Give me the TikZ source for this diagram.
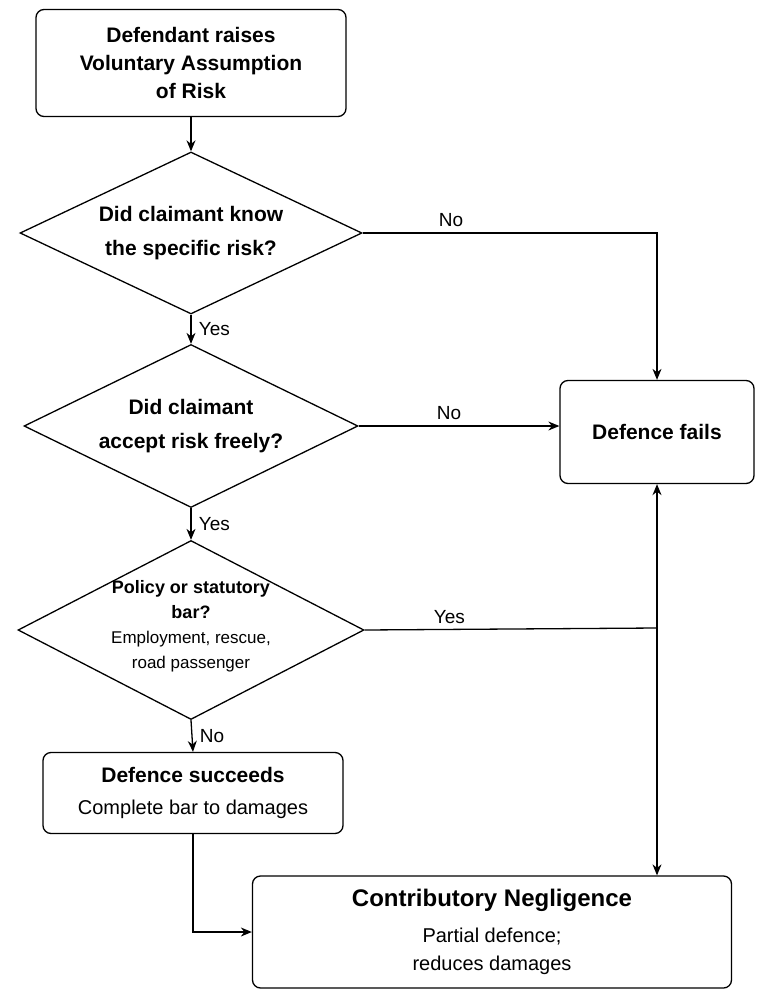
\documentclass[tikz,border=0pt]{standalone}
\usepackage{fontspec}
\setmainfont{Liberation Sans}
\usetikzlibrary{positioning,shapes.geometric,arrows.meta}

\begin{document}
\begin{tikzpicture}[x=1pt,y=-1pt,
    box/.style = {shape=rectangle, rounded corners=8pt, draw, line width=1.3pt,
                  align=center, inner sep=0pt},
    choice/.style = {shape=diamond, draw, line width=1.3pt, inner sep=0pt},
    words/.style = {align=center, inner sep=0pt},
    link/.style = {line width=1.3pt, -{Stealth[length=11pt,width=9pt]}},
    plain/.style = {line width=1.3pt},
    tag/.style = {font=\fontsize{19}{22}\selectfont}]
  \useasboundingbox (0,0) rectangle (771,1006);
  % boxes
  \node[box, minimum width=310pt, minimum height=107pt,
        font=\bfseries\fontsize{21}{28}\selectfont] (raise) at (191,63)
        {Defendant raises\\Voluntary Assumption\\of Risk};
  \node[choice, minimum width=342pt, minimum height=162pt] (know) at (191,233) {};
  \node[words, font=\bfseries\fontsize{21}{34}\selectfont] (knowtxt) at (know)
        {Did claimant know\\the specific risk?};
  \node[choice, minimum width=334pt, minimum height=163pt] (free) at (191,426) {};
  \node[words, font=\bfseries\fontsize{21}{34}\selectfont] (freetxt) at (free)
        {Did claimant\\accept risk freely?};
  \node[choice, minimum width=346pt, minimum height=179pt] (bar) at (191,630) {};
  \node[words, font=\fontsize{17}{25}\selectfont] (bartxt) at (191,626)
        {\textbf{\fontsize{18}{25}\selectfont Policy or statutory}\\
         \textbf{\fontsize{18}{25}\selectfont bar?}\\
         Employment, rescue,\\road passenger};
  \node[box, minimum width=194pt, minimum height=103pt,
        font=\bfseries\fontsize{21}{26}\selectfont] (fails) at (657,432) {Defence fails};
  \node[box, minimum width=300pt, minimum height=81pt,
        font=\fontsize{20}{32}\selectfont] (wins) at (193,793)
        {{\bfseries\fontsize{21}{32}\selectfont Defence succeeds}\\
         Complete bar to damages};
  \node[box, minimum width=479pt, minimum height=112pt,
        font=\fontsize{20}{28}\selectfont] (partial) at (492,932)
        {{\bfseries\fontsize{24}{30}\selectfont Contributory Negligence}\\[8pt]
         Partial defence;\\reduces damages};
  \coordinate (split) at (657,628);
  % connectors
  \draw[link] (raise.south) -- (know.north);
  \draw[link] (know.south) -- node[tag, right=4pt] {Yes} (free.north);
  \draw[link] (free.south) -- node[tag, right=4pt] {Yes} (bar.north);
  \draw[link] (bar.south) -- node[tag, right=4pt] {No} (wins.north);
  \draw[link] (know.east) -- node[tag, above=2pt, pos=0.3] {No} (know.east -| fails.north) -- (fails.north);
  \draw[link] (free.east) -- node[tag, above=2pt, pos=0.45] {No} (free.east -| fails.west);
  \draw[plain] (bar.east) -- node[tag, above=2pt, pos=0.29] {Yes} (split);
  \draw[link] (split) -- (fails.south);
  \draw[link] (split) -- (split |- partial.north);
  \draw[link] (wins.south) -- (wins.south |- partial.west) -- (partial.west);
\end{tikzpicture}
\end{document}
